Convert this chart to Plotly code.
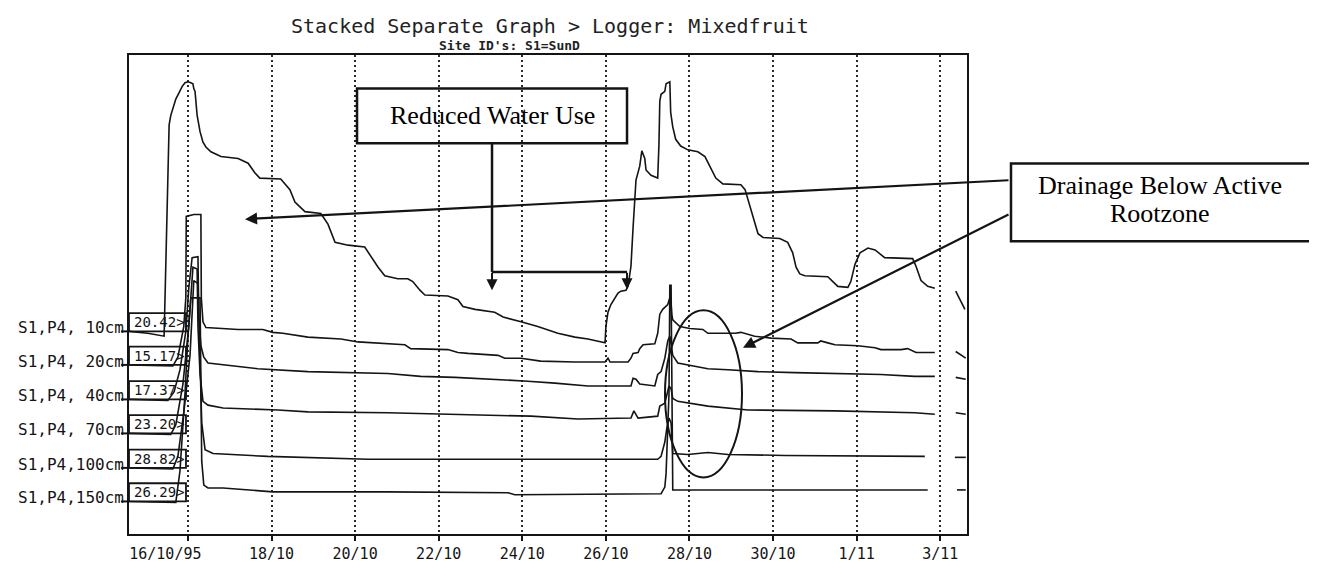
import pandas as pd
import plotly.graph_objects as go

# ---------------- data ----------------
# time: day of October 1995 (32 = 1 Nov, 34 = 3 Nov); values: stacked display units (0-100)
depth_labels = ["S1,P4, 10cm", "S1,P4, 20cm", "S1,P4, 40cm", "S1,P4, 70cm", "S1,P4,100cm", "S1,P4,150cm"]
start_readings = ["20.42>", "15.17>", "17.37>", "23.20>", "28.82>", "26.29>"]

day_10cm = [14.59, 15.04, 15.43, 15.45, 15.47, 15.52, 15.55, 15.59, 15.67, 15.71,
            15.78, 15.86, 15.93, 16.00, 16.07, 16.12, 16.14, 16.17, 16.22, 16.29,
            16.36, 16.43, 16.55, 16.79, 17.20, 17.44, 17.60, 17.72, 18.22, 18.44,
            18.56, 18.80, 19.18, 19.35, 19.52, 19.83, 20.23, 20.38, 20.55, 20.71,
            21.02, 21.26, 21.38, 21.55, 21.67, 22.22, 22.46, 22.58, 22.87, 23.34,
            23.54, 23.97, 24.37, 24.85, 25.26, 25.57, 25.98, 26.00, 26.05, 26.12,
            26.22, 26.29, 26.36, 26.48, 26.53, 26.60, 26.65, 26.69, 26.72, 26.81,
            26.84, 26.86, 26.93, 26.96, 27.08, 27.24, 27.27, 27.29, 27.32, 27.41,
            27.44, 27.53, 27.55, 27.60, 27.67, 27.79, 27.96, 28.20, 28.37, 28.51,
            28.63, 28.80, 29.23, 29.33, 29.40, 29.47, 29.56, 29.64, 29.76, 30.16,
            30.35, 30.47, 30.55, 30.64, 30.76, 31.31, 31.43, 31.55, 31.79, 31.86,
            31.96, 32.08, 32.27, 32.44, 32.67, 33.34, 33.42, 33.54, 33.70, 33.87,
            34.1, 34.37, 34.59]
val_10cm = [42.3, 41.9, 41.3, 49.3, 57.3, 77.4, 85.4, 87.4, 89.4, 90.8,
            92.0, 93.4, 94.2, 94.4, 94.2, 94.0, 93.0, 92.4, 87.4, 84.0,
            81.8, 80.8, 79.8, 78.8, 78.4, 77.4, 75.4, 74.3, 74.1, 71.9,
            69.3, 67.3, 66.9, 64.7, 60.9, 60.3, 59.9, 57.9, 55.7, 53.9,
            53.3, 53.3, 52.7, 50.9, 49.9, 49.7, 48.9, 47.5, 46.9, 46.3,
            45.3, 44.3, 43.3, 41.9, 41.1, 40.7, 39.9, 43.3, 46.3, 47.9,
            49.3, 50.3, 50.7, 50.9, 51.7, 55.9, 63.9, 70.7, 73.9, 76.8,
            78.8, 80.0, 78.4, 76.0, 74.9, 74.3, 81.4, 90.4, 91.8, 92.4,
            94.0, 94.4, 88.0, 85.0, 82.4, 81.0, 80.2, 79.8, 78.8, 76.4,
            74.3, 73.1, 72.9, 71.9, 69.9, 67.9, 65.3, 62.7, 61.9, 61.7,
            60.9, 58.7, 55.7, 54.3, 53.9, 53.7, 52.7, 51.7, 51.5, 52.7,
            56.3, 58.7, 59.7, 59.3, 57.7, 57.5, 55.9, 52.9, 51.7, 51.3,
            None, 50.7, 46.9]

day_20cm = [14.59, 15.64, 15.76, 15.90, 15.95, 15.96, 16.14, 16.31, 16.32, 16.36,
            16.43, 17.20, 17.79, 18.03, 18.27, 18.87, 19.66, 20.07, 21.19, 21.33,
            22.22, 22.46, 22.70, 23.42, 23.58, 23.97, 24.44, 25.26, 25.98, 26.05,
            26.10, 26.53, 26.60, 26.65, 26.77, 26.81, 26.89, 27.17, 27.24, 27.29,
            27.36, 27.48, 27.53, 27.55, 27.58, 27.60, 27.77, 28.01, 28.32, 28.44,
            29.09, 29.23, 29.56, 29.95, 30.43, 30.59, 31.07, 31.14, 31.31, 31.48,
            32.03, 32.44, 32.58, 33.06, 33.22, 33.42, 33.87, 34.1, 34.37, 34.61]
val_20cm = [35.3, 35.1, 36.9, 43.3, 49.3, 66.3, 66.7, 66.7, 49.3, 44.3,
            43.1, 42.7, 42.7, 42.1, 41.9, 41.1, 40.7, 40.1, 39.5, 38.7,
            38.5, 37.9, 37.7, 37.3, 36.7, 36.7, 36.1, 35.9, 35.9, 36.7,
            35.9, 35.9, 36.7, 37.7, 37.9, 38.7, 39.5, 39.7, 41.9, 45.9,
            46.9, 47.9, 49.3, 49.3, 45.7, 44.7, 43.3, 42.9, 42.7, 41.9,
            41.9, 42.1, 41.3, 40.9, 40.7, 39.9, 39.9, 40.3, 39.9, 39.5,
            39.3, 38.9, 38.5, 38.5, 38.7, 37.9, 37.9, None, 38.1, 36.7]

day_40cm = [14.59, 15.52, 15.67, 15.81, 15.95, 16.02, 16.10, 16.24, 16.26, 16.31,
            16.38, 16.48, 17.67, 18.87, 20.78, 21.57, 22.39, 23.42, 24.13, 24.78,
            25.57, 26.53, 26.60, 26.65, 26.72, 26.81, 27.17, 27.24, 27.32, 27.41,
            27.48, 27.53, 27.58, 27.60, 27.72, 27.96, 28.44, 28.92, 29.64, 30.52,
            32.10, 32.58, 33.39, 33.87, 34.1, 34.37, 34.61]
val_40cm = [28.1, 27.9, 29.7, 34.3, 42.3, 51.3, 57.7, 57.9, 45.3, 39.3,
            36.9, 35.7, 34.5, 33.9, 33.5, 32.9, 32.7, 32.3, 31.9, 31.5,
            30.9, 30.9, 30.9, 32.5, 32.3, 31.3, 30.9, 33.3, 33.9, 36.7,
            40.3, 41.3, 38.9, 37.3, 35.7, 35.3, 34.5, 34.3, 33.9, 33.7,
            33.3, 33.3, 32.9, 32.9, None, 32.7, 32.3]

day_70cm = [14.59, 15.59, 15.71, 15.88, 16.02, 16.12, 16.22, 16.24, 16.29, 16.36,
            16.48, 16.84, 18.15, 18.87, 20.78, 22.39, 24.21, 25.33, 26.53, 26.60,
            26.67, 26.77, 27.24, 27.29, 27.41, 27.46, 27.51, 27.56, 27.60, 27.72,
            28.03, 28.44, 29.40, 31.48, 33.39, 33.87, 34.1, 34.37, 34.61]
val_70cm = [21.0, 20.8, 22.8, 31.3, 43.3, 55.7, 55.3, 43.3, 33.3, 27.7,
            26.9, 26.3, 25.9, 25.5, 25.3, 24.9, 24.6, 24.0, 24.2, 24.2,
            25.7, 24.2, 24.6, 26.7, 27.3, 29.3, 30.9, 30.3, 28.3, 27.7,
            27.3, 26.7, 25.9, 25.7, 25.3, 25.0, None, 25.3, 25.0]

day_100cm = [14.59, 15.64, 15.76, 15.90, 16.05, 16.14, 16.24, 16.29, 16.33, 16.41,
             16.60, 17.91, 20.31, 23.58, 26.53, 27.24, 27.32, 27.41, 27.46, 27.51,
             27.56, 27.60, 27.96, 28.44, 28.92, 30.28, 33.63, 34.0, 34.35, 34.61]
val_100cm = [13.8, 13.6, 16.2, 25.3, 37.3, 52.9, 52.3, 33.3, 23.2, 17.6,
             16.8, 16.2, 15.6, 15.6, 15.6, 15.6, 16.2, 19.2, 22.2, 24.2,
             23.2, 16.8, 16.6, 17.0, 16.6, 16.4, 16.2, None, 16.0, 16.0]

day_150cm = [14.59, 15.71, 15.81, 15.93, 16.00, 16.07, 16.29, 16.31, 16.33, 16.38,
             16.48, 16.84, 18.03, 20.78, 23.66, 23.82, 27.32, 27.41, 27.44, 27.51,
             27.53, 27.56, 27.58, 27.60, 27.96, 28.92, 33.70, 34.0, 34.40, 34.61]
val_150cm = [6.8, 6.6, 13.2, 29.3, 41.3, 49.3, 49.3, 29.3, 15.2, 10.2,
             9.6, 9.6, 8.8, 8.8, 8.6, 8.2, 8.4, 9.8, 12.6, 29.3,
             51.9, 51.9, 29.3, 9.2, 9.2, 9.2, 9.2, None, 9.2, 9.2]

tick_days = [16, 18, 20, 22, 24, 26, 28, 30, 32, 34]
tick_text = ["16/10/95", "18/10", "20/10", "22/10", "24/10", "26/10", "28/10", "30/10", "1/11", "3/11"]
x_range_days = [14.59, 34.64]

# ---------------- figure ----------------
BASE = pd.Timestamp("1995-10-01")


def to_time(days):
    return [BASE + pd.to_timedelta(d - 1, unit="D") for d in days]


series = [(day_10cm, val_10cm), (day_20cm, val_20cm), (day_40cm, val_40cm),
          (day_70cm, val_70cm), (day_100cm, val_100cm), (day_150cm, val_150cm)]

INK = "#141414"
MONO = "DejaVu Sans Mono"
SERIF = "Liberation Serif"

fig = go.Figure()
for d, v in series:
    fig.add_trace(go.Scatter(x=to_time(d), y=v, mode="lines", connectgaps=False,
                             line=dict(color=INK, width=1.6), hoverinfo="skip",
                             showlegend=False))

shapes = []
annotations = []

# per-series label + start-value box (anchored at each series' first value)
BOX_H = 3.8
for lab, rd, (d, v) in zip(depth_labels, start_readings, series):
    s = v[0]
    shapes.append(dict(type="rect", xref="paper", yref="y", x0=0, x1=0.068, y0=s, y1=s + BOX_H,
                       line=dict(color=INK, width=1.8), fillcolor="rgba(0,0,0,0)", layer="above"))
    shapes.append(dict(type="line", xref="paper", yref="y", x0=-0.0095, x1=0, y0=s, y1=s,
                       line=dict(color=INK, width=2)))
    annotations.append(dict(text=rd, xref="paper", yref="y", x=0.004, y=s + BOX_H / 2,
                            xanchor="left", yanchor="middle", showarrow=False,
                            font=dict(family=MONO, size=14, color=INK)))
    annotations.append(dict(text=lab, xref="paper", yref="y", x=-0.004, y=s + 0.75,
                            xanchor="right", yanchor="middle", showarrow=False,
                            font=dict(family=MONO, size=16, color=INK)))

# titles
annotations.append(dict(text="Stacked Separate Graph > Logger: Mixedfruit", xref="paper", yref="paper",
                        x=0.5024, y=1.060, xanchor="center", yanchor="middle", showarrow=False,
                        font=dict(family=MONO, size=20, color="#222")))
annotations.append(dict(text="<b>Site ID's: S1=SunD</b>", xref="paper", yref="paper",
                        x=0.4535, y=1.020, xanchor="center", yanchor="middle", showarrow=False,
                        font=dict(family=MONO, size=13, color="#222")))

# "Reduced Water Use" call-out
shapes.append(dict(type="rect", xref="paper", yref="paper", x0=0.2721, x1=0.5943, y0=0.8156, y1=0.9299,
                   line=dict(color=INK, width=2.5), fillcolor="rgba(0,0,0,0)"))
annotations.append(dict(text="Reduced Water Use", xref="paper", yref="paper", x=0.4332, y=0.8737,
                        xanchor="center", yanchor="middle", showarrow=False,
                        font=dict(family=SERIF, size=26, color="#000")))
shapes.append(dict(type="line", xref="paper", yref="paper", x0=0.4332, x1=0.4332, y0=0.8156, y1=0.5471,
                   line=dict(color=INK, width=2.5)))
shapes.append(dict(type="line", xref="paper", yref="paper", x0=0.4332, x1=0.5943, y0=0.5471, y1=0.5471,
                   line=dict(color=INK, width=2.5)))
for ax_x, tip_y, dy in [(0.4332, 0.5090, -19), (0.5943, 0.5110, -18)]:
    annotations.append(dict(text="", xref="paper", yref="paper", x=ax_x, y=tip_y, ax=0, ay=dy,
                            axref="pixel", ayref="pixel", showarrow=True, arrowhead=2,
                            arrowsize=1.1, arrowwidth=2, arrowcolor=INK))

# "Drainage Below Active Rootzone" call-out
shapes.append(dict(type="rect", xref="paper", yref="paper", x0=1.0525, x1=1.4224, y0=0.6112, y1=0.7735,
                   line=dict(color=INK, width=2.5), fillcolor="white"))
annotations.append(dict(text="Drainage Below Active", xref="paper", yref="paper", x=1.2303, y=0.7275,
                        xanchor="center", yanchor="middle", showarrow=False,
                        font=dict(family=SERIF, size=26, color="#000")))
annotations.append(dict(text="Rootzone", xref="paper", yref="paper", x=1.2303, y=0.6693,
                        xanchor="center", yanchor="middle", showarrow=False,
                        font=dict(family=SERIF, size=26, color="#000")))
annotations.append(dict(text="", xref="paper", yref="paper", x=0.1384, y=0.6573, ax=765, ay=-39,
                        axref="pixel", ayref="pixel", showarrow=True, arrowhead=2, arrowsize=1.1,
                        arrowwidth=2.2, arrowcolor=INK))
annotations.append(dict(text="", xref="paper", yref="paper", x=0.7327, y=0.3888, ax=267, ay=-134,
                        axref="pixel", ayref="pixel", showarrow=True, arrowhead=2, arrowsize=1.1,
                        arrowwidth=2.2, arrowcolor=INK))

# drainage ellipse
shapes.append(dict(type="circle", xref="paper", yref="paper", x0=0.6396, x1=0.7315, y0=0.1182, y1=0.4669,
                   line=dict(color=INK, width=2)))

# first date label sits left of its tick in the original (padded with non-breaking spaces)
shown_ticks = [tick_text[0] + "\u00a0" * 5] + tick_text[1:]

fig.update_layout(
    width=1317, height=567,
    margin=dict(l=121, r=358, t=47, b=21),
    paper_bgcolor="white", plot_bgcolor="white",
    showlegend=False,
    shapes=shapes, annotations=annotations,
    xaxis=dict(type="date", range=to_time(x_range_days), tickmode="array",
               tickvals=to_time(tick_days), ticktext=shown_ticks,
               ticks="outside", ticklen=5, tickwidth=2, tickcolor=INK,
               showgrid=True, gridcolor="#2a2a2a", gridwidth=1.5, griddash="2px,3px",
               showline=True, linecolor=INK, linewidth=1.6, mirror=True, zeroline=False,
               tickfont=dict(family=MONO, size=15, color=INK)),
    yaxis=dict(range=[0, 100], showticklabels=False, ticks="", showgrid=False, zeroline=False,
               showline=True, linecolor=INK, linewidth=1.6, mirror=True),
)

fig.write_html("out.html")
